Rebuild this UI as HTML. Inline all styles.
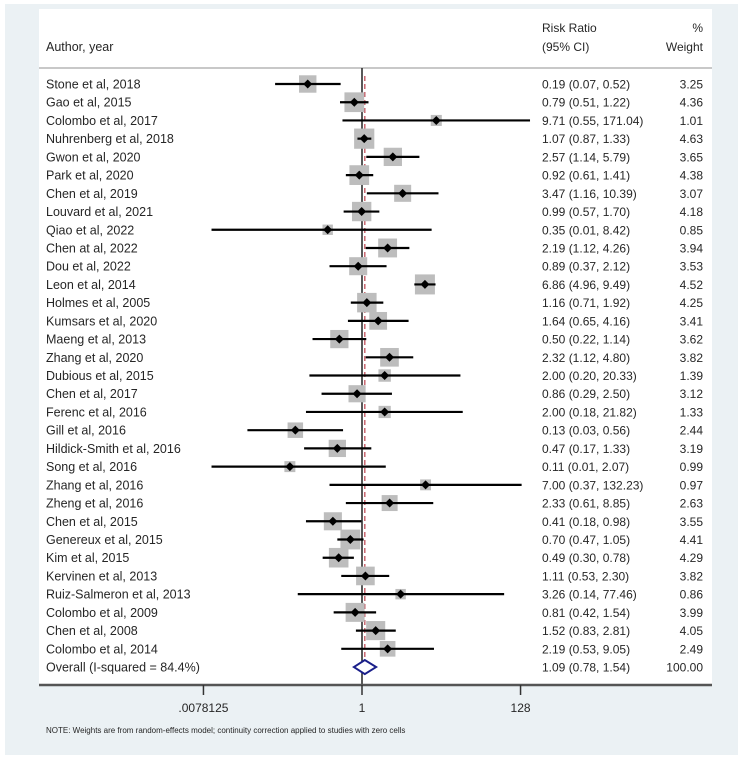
<!DOCTYPE html>
<html><head><meta charset="utf-8"><style>
html,body{margin:0;padding:0;background:#fff;}
svg{display:block;font-family:"Liberation Sans",Arial,sans-serif;}
text{fill:#262626;}
</style></head><body>
<svg id="chart" width="744" height="760" viewBox="0 0 744 760">
<rect x="5" y="4" width="733" height="751" fill="#ebf1f4"/>
<rect x="39" y="9" width="673" height="676" fill="#ffffff"/>
<text x="46" y="51" font-size="12.5">Author, year</text>
<text x="542" y="32" font-size="12">Risk Ratio</text>
<text x="542" y="51" font-size="12">(95% CI)</text>
<text x="703" y="32" font-size="12" text-anchor="end">%</text>
<text x="703" y="51" font-size="12" text-anchor="end">Weight</text>
<line x1="39" y1="68" x2="712" y2="68" stroke="#c8c8c8" stroke-width="2"/>
<g id="rows"></g>
<line x1="39" y1="685" x2="712" y2="685" stroke="#555" stroke-width="2.5"/>
<g id="ticks"></g>
<text x="46" y="733" font-size="8">NOTE: Weights are from random-effects model; continuity correction applied to studies with zero cells</text>
</svg>
<script>
const studies=["Stone et al, 2018","Gao et al, 2015","Colombo et al, 2017","Nuhrenberg et al, 2018","Gwon et al, 2020","Park et al, 2020","Chen et al, 2019","Louvard et al, 2021","Qiao et al, 2022","Chen at al, 2022","Dou et al, 2022","Leon et al, 2014","Holmes et al, 2005","Kumsars et al, 2020","Maeng et al, 2013","Zhang et al, 2020","Dubious et al, 2015","Chen et al, 2017","Ferenc et al, 2016","Gill et al, 2016","Hildick-Smith et al, 2016","Song et al, 2016","Zhang et al, 2016","Zheng et al, 2016","Chen et al, 2015","Genereux et al, 2015","Kim et al, 2015","Kervinen et  al, 2013","Ruiz-Salmeron et al, 2013","Colombo et al, 2009","Chen et al, 2008","Colombo et al, 2014"];
const rr=[0.19,0.79,9.71,1.07,2.57,0.92,3.47,0.99,0.35,2.19,0.89,6.86,1.16,1.64,0.50,2.32,2.00,0.86,2.00,0.13,0.47,0.11,7.00,2.33,0.41,0.70,0.49,1.11,3.26,0.81,1.52,2.19];
const lo=[0.07,0.51,0.55,0.87,1.14,0.61,1.16,0.57,0.01,1.12,0.37,4.96,0.71,0.65,0.22,1.12,0.20,0.29,0.18,0.03,0.17,0.01,0.37,0.61,0.18,0.47,0.30,0.53,0.14,0.42,0.83,0.53];
const hi=[0.52,1.22,171.04,1.33,5.79,1.41,10.39,1.70,8.42,4.26,2.12,9.49,1.92,4.16,1.14,4.80,20.33,2.50,21.82,0.56,1.33,2.07,132.23,8.85,0.98,1.05,0.78,2.30,77.46,1.54,2.81,9.05];
const weights=[3.25,4.36,1.01,4.63,3.65,4.38,3.07,4.18,0.85,3.94,3.53,4.52,4.25,3.41,3.62,3.82,1.39,3.12,1.33,2.44,3.19,0.99,0.97,2.63,3.55,4.41,4.29,3.82,0.86,3.99,4.05,2.49];
const overallLabel="Overall (I-squared = 84.4%)";
const overall=[1.09,0.78,1.54];
const overallWeight="100.00";
const tickValues=[0.0078125,1,128];
const tickLabels=[".0078125","1","128"];

const NS="http://www.w3.org/2000/svg";
const xs=v=>362+Math.log2(v)*22.65;
const ys=i=>84+i*18.22;
const fmt=v=>v.toFixed(2);
const g=document.getElementById('rows');
function mk(tag,attrs,parent){const e=document.createElementNS(NS,tag);for(const k in attrs)e.setAttribute(k,attrs[k]);(parent||g).appendChild(e);return e;}
const ref=mk('line',{x1:xs(1),y1:68,x2:xs(1),y2:685,stroke:'#222','stroke-width':1.5});


const od=mk('line',{x1:xs(overall[0]),y1:ys(0)-8,x2:xs(overall[0]),y2:ys(studies.length),stroke:'#c0505a','stroke-width':1.3,'stroke-dasharray':'5,3'});


studies.forEach((s,i)=>{
  const y=ys(i);
  const t=mk('text',{x:46,y:y+4.5,'font-size':12.5});t.textContent=s;
  
  
  const side=3+8*Math.sqrt(weights[i]);
  const sq=mk('rect',{x:xs(rr[i])-side/2,y:y-side/2,width:side,height:side,fill:'#bdbdbd'});
  
  
  const ln=mk('line',{x1:xs(lo[i]),y1:y,x2:xs(hi[i]),y2:y,stroke:'#000','stroke-width':2.2});
  
  
  const cx=xs(rr[i]);
  const pt=mk('polygon',{points:`${cx-4.5},${y} ${cx},${y-4.5} ${cx+4.5},${y} ${cx},${y+4.5}`,fill:'#000'});
  
  
  const c=mk('text',{x:542,y:y+4.5,'font-size':12});c.textContent=`${fmt(rr[i])} (${fmt(lo[i])}, ${fmt(hi[i])})`;
  
  
  const w=mk('text',{x:703,y:y+4.5,'font-size':12,'text-anchor':'end'});w.textContent=fmt(weights[i]);
  
  
});
const oy=ys(studies.length);
const ot=mk('text',{x:46,y:oy+4.5,'font-size':12.5});ot.textContent=overallLabel;


const dm=mk('polygon',{points:`${xs(overall[1])},${oy} ${xs(overall[0])},${oy-7} ${xs(overall[2])},${oy} ${xs(overall[0])},${oy+7}`,fill:'#fff',stroke:'#1a1f8a','stroke-width':2});


const oc=mk('text',{x:542,y:oy+4.5,'font-size':12});oc.textContent=`${fmt(overall[0])} (${fmt(overall[1])}, ${fmt(overall[2])})`;


const ow=mk('text',{x:703,y:oy+4.5,'font-size':12,'text-anchor':'end'});ow.textContent=overallWeight;


const tg=document.getElementById('ticks');
tickValues.forEach((v,i)=>{
  const x=xs(v);
  const tl=mk('line',{x1:x,y1:685,x2:x,y2:695,stroke:'#333','stroke-width':1.5},tg);
  
  
  const tt=mk('text',{x:x,y:712,'font-size':12,'text-anchor':'middle'},tg);tt.textContent=tickLabels[i];
  
  
});
</script>
</body></html>
